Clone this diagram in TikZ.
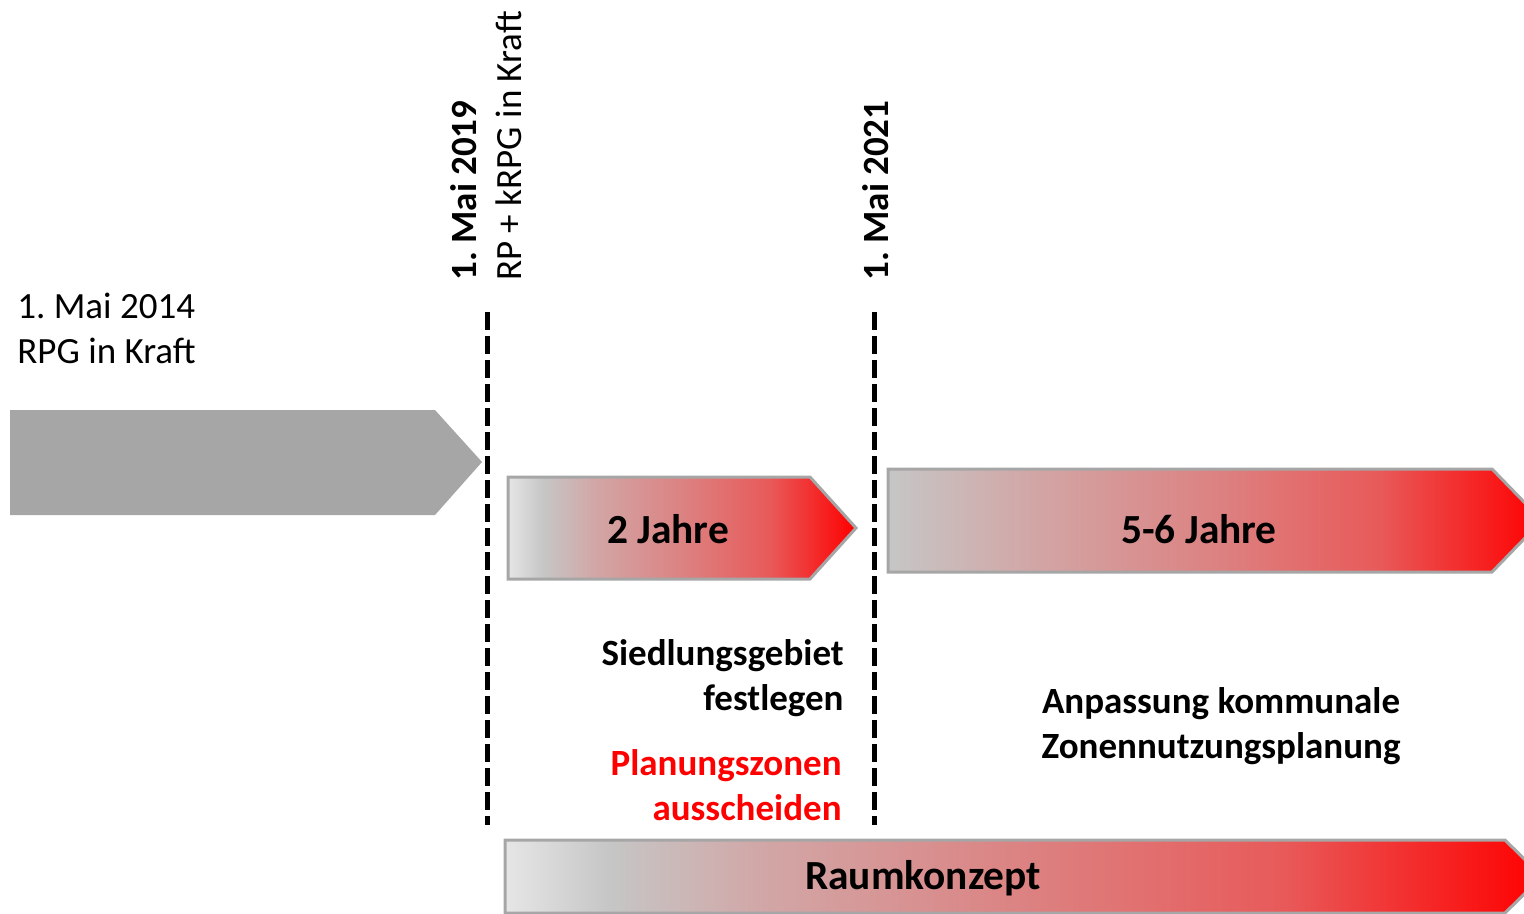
\documentclass[tikz,border=0pt]{standalone}
\usepackage{fontspec}
\setmainfont{Carlito}
\frenchspacing
\definecolor{arrowgray}{HTML}{A6A6A6}
\definecolor{gA}{HTML}{E6E6E6}
\definecolor{gB}{HTML}{C6C6C6}
\definecolor{gC}{HTML}{D2A6A6}
\definecolor{gD}{HTML}{DC8282}
\definecolor{gE}{HTML}{E85A5A}
\definecolor{gF}{HTML}{FF0000}
\definecolor{txtred}{HTML}{FF0000}
\pgfdeclarehorizontalshading{graderedA}{100bp}{color(0bp)=(gA); color(25bp)=(gA); color(30bp)=(gB); color(37.5bp)=(gC); color(50bp)=(gD); color(62.5bp)=(gE); color(75bp)=(gF); color(100bp)=(gF)}
\pgfdeclarehorizontalshading{graderedB}{100bp}{color(0bp)=(gB); color(25bp)=(gB); color(36bp)=(gC); color(50bp)=(gD); color(62.5bp)=(gE); color(75bp)=(gF); color(100bp)=(gF)}
\begin{document}
\begin{tikzpicture}[x=0.5pt,y=-0.5pt,
  reg/.style={inner sep=0pt, font=\fontsize{18.5}{22.5}\selectfont},
  bld/.style={inner sep=0pt, font=\fontsize{18.5}{22.5}\selectfont\bfseries},
  big/.style={inner sep=0pt, font=\fontsize{20.7}{25}\selectfont\bfseries},
  phasebox/.style={draw=arrowgray, line width=1.5pt},
  milestone/.style={line width=2.5pt, dash pattern=on 9pt off 3pt},
]
\useasboundingbox (0,0) rectangle (1524,914);

% grey arrow (before 2019)
\fill[arrowgray] (10,410) -- (435,410) -- (482,462) -- (435,515) -- (10,515) -- cycle;

% phase arrows
\path[phasebox, shading=graderedA] (508,477) -- (810,477) -- (856,528) -- (810,579) -- (508,579) -- cycle;
\path[phasebox, shading=graderedB] (888,469) -- (1492,469) -- (1542,520.5) -- (1492,572) -- (888,572) -- cycle;
\path[phasebox, shading=graderedA] (505,840) -- (1505,840) -- (1542,876.5) -- (1505,913) -- (505,913) -- cycle;

% milestone lines
\coordinate (d1t) at (487,312);
\coordinate (d1b) at (487,825);
\coordinate (d2t) at (874,312);
\coordinate (d2b) at (874,825);
\draw[milestone] (d1t) -- (d1b);
\draw[milestone] (d2t) -- (d2b);

% texts
\node[reg, anchor=base west] (t14a) at (17,319) {1. Mai 2014};
\node[reg, anchor=base west] (t14b) at (17,364) {RPG in Kraft};

\node[bld, rotate=90, anchor=base west] (t19a) at (476,281) {1. Mai 2019};
\node[reg, rotate=90, anchor=base west] (t19b) at (521,281) {RP + kRPG in Kraft};
\node[bld, rotate=90, anchor=base west] (t21) at (888,281) {1. Mai 2021};

\node[big, anchor=base] (j2) at (668,543) {2 Jahre};
\node[big, anchor=base] (j56) at (1199,543) {5-6 Jahre};
\node[big, anchor=base] (rk) at (923,889) {Raumkonzept};

\node[bld, anchor=base east] (s1) at (844,665) {Siedlungsgebiet};
\node[bld, anchor=base east] (s2) at (844,710) {festlegen};
\node[bld, anchor=base east, text=txtred] (p1) at (842,775) {Planungszonen};
\node[bld, anchor=base east, text=txtred] (p2) at (842,820) {ausscheiden};

\node[bld, anchor=base] (a1) at (1221,713) {Anpassung kommunale};
\node[bld, anchor=base] (a2) at (1221,758) {Zonennutzungsplanung};
\end{tikzpicture}
\end{document}
